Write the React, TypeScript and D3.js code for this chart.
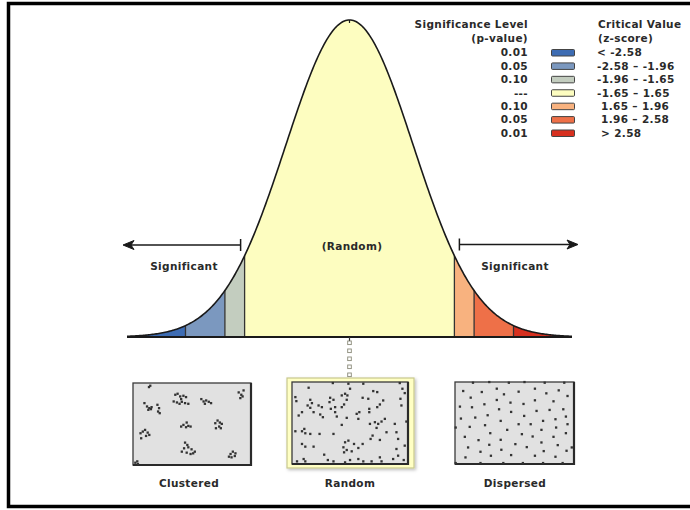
import { useEffect } from "react";
import * as d3 from "d3";

// bell-curve breaks (z-score) and segment fills
const zBreaks = [-3.5, -2.58, -1.96, -1.65, 1.65, 1.96, 2.58, 3.5];
const binColors = ["#3d6cb3", "#7b98bf", "#c3cdbf", "#fdfdc0", "#f8b27f", "#ee7048", "#d7301f"];

// legend
const pValues = ["0.01", "0.05", "0.10", "---", "0.10", "0.05", "0.01"];
const zRanges = ["< -2.58", "-2.58 \u2013 -1.96", "-1.96 \u2013 -1.65", "-1.65 \u2013 1.65", "1.65 \u2013 1.96", "1.96 \u2013 2.58", "> 2.58"];

const panelLabels = ["Clustered", "Random", "Dispersed"];

// dot positions in a reading grid per panel
const clusteredDots: [number, number][] = [
  [68, 28], [64, 32],
  [50, 80], [58, 90], [65, 95], [70, 98], [62, 100], [72, 92], [90, 85], [95, 95], [92, 105], [97, 110],
  [145, 55], [152, 52], [160, 60], [170, 58], [178, 62], [140, 75], [150, 78], [158, 82], [165, 76], [175, 80], [185, 82], [163, 68],
  [225, 68], [232, 75], [240, 72], [248, 76], [255, 80], [236, 82],
  [340, 48], [348, 55], [355, 42], [345, 65], [352, 60],
  [38, 170], [45, 165], [52, 160], [60, 168], [65, 175], [40, 185], [55, 178],
  [163, 150], [170, 145], [180, 138], [185, 148], [192, 150], [178, 152],
  [268, 140], [275, 132], [282, 138], [288, 142], [270, 155], [280, 150], [285, 155],
  [175, 198], [182, 205], [172, 215], [185, 212], [195, 218], [205, 225], [165, 225], [180, 228], [192, 232], [200, 230],
  [310, 240], [315, 232], [322, 225], [330, 230], [318, 242], [328, 238],
  [22, 258], [28, 254], [30, 262],
];

const randomDots: [number, number][] = [
  [75, 42], [148, 28], [195, 30], [200, 45], [240, 30], [270, 52], [282, 55], [350, 28], [358, 45], [365, 58],
  [35, 70], [38, 82], [80, 78], [85, 88], [72, 95], [80, 102], [105, 95], [115, 100], [140, 72], [150, 78],
  [138, 85], [175, 65], [185, 60], [192, 65], [190, 78], [182, 92], [175, 100], [155, 100], [142, 105], [238, 72],
  [255, 75], [282, 100], [290, 92], [258, 105], [258, 115], [300, 80], [352, 75], [355, 95], [45, 125], [55, 115],
  [90, 115], [110, 122], [118, 130], [155, 115], [160, 128], [220, 120], [228, 115], [225, 135], [190, 132], [175, 153],
  [275, 145], [285, 150], [295, 143], [305, 135], [280, 162], [260, 150], [335, 150], [370, 143], [35, 172], [55, 172],
  [62, 165], [65, 178], [80, 180], [108, 180], [150, 180], [268, 185], [262, 195], [290, 198], [310, 175], [340, 175],
  [345, 195], [55, 210], [65, 218], [90, 218], [185, 205], [195, 200], [180, 220], [190, 228], [182, 235], [212, 210],
  [238, 210], [205, 232], [225, 222], [340, 225], [345, 245], [365, 215], [122, 242], [40, 262], [60, 255], [65, 262],
  [133, 258], [150, 262], [185, 265], [200, 258], [225, 255], [240, 262], [265, 262], [290, 250], [295, 262], [330, 255],
  [362, 258],
];

const dispersedDots: [number, number][] = [
  [75, 20], [125, 18], [185, 20], [233, 18], [295, 20], [355, 20],
  [22, 262], [98, 262], [168, 262], [228, 262], [290, 262], [350, 262],
  [45, 45], [102, 48], [148, 38], [170, 55], [215, 47], [265, 38], [300, 52], [338, 43],
  [68, 65], [148, 72], [190, 80], [230, 84], [265, 73], [322, 76], [110, 85], [365, 60],
  [35, 92], [72, 94], [155, 100], [192, 108], [270, 105], [310, 102], [352, 100],
  [38, 128], [82, 125], [120, 118], [160, 135], [232, 120], [290, 135], [328, 130], [360, 122],
  [65, 153], [112, 148], [180, 162], [215, 145], [252, 145], [285, 162], [330, 155], [365, 145],
  [50, 183], [92, 193], [128, 172], [160, 192], [225, 175], [258, 182], [322, 183], [360, 172],
  [60, 215], [125, 207], [162, 222], [205, 205], [240, 214], [285, 200], [335, 208],
  [52, 245], [98, 228], [130, 240], [192, 238], [265, 240], [292, 226], [328, 243], [362, 225],
  [22, 155], [378, 215],
];

const FONT = "'DejaVu Sans', Verdana, sans-serif";
const INK = "#2a2a2a";

const pdf = (z: number) => Math.exp(-0.5 * z * z) / Math.sqrt(2 * Math.PI);

export default function App() {
  useEffect(() => {
    document.body.style.margin = "0";
  }, []);

  const x = d3.scaleLinear().domain([-3.5, 3.5]).range([127, 572]);
  const y = d3.scaleLinear().domain([0, pdf(0)]).range([337, 20]);

  const area = d3
    .area<number>()
    .x((z) => x(z))
    .y0(y(0))
    .y1((z) => y(pdf(z)));
  const line = d3
    .line<number>()
    .x((z) => x(z))
    .y((z) => y(pdf(z)));

  const segment = (z0: number, z1: number) => {
    const pts = d3.range(z0, z1, 0.02);
    pts.push(z1);
    return pts;
  };
  const curvePts = segment(-3.5, 3.5);

  const rowY = d3.scalePoint<number>().domain(d3.range(pValues.length)).range([52.5, 133]);

  const panels = [
    { dots: clusteredDots, x0: 133, x1: 251, y0: 383, y1: 465, dx: [15, 378], dy: [20, 265], cx: 189 },
    { dots: randomDots, x0: 292, x1: 408, y0: 382, y1: 464, dx: [25, 375], dy: [25, 270], cx: 350 },
    { dots: dispersedDots, x0: 455, x1: 574, y0: 382, y1: 464, dx: [20, 385], dy: [18, 265], cx: 515 },
  ];

  const arrowY = 245;
  const leftEnd = x(-1.65) - 4;
  const rightEnd = x(1.65) + 5;

  return (
    <svg width={690} height={510} style={{ display: "block", background: "#fff" }} fontFamily={FONT} letterSpacing={0.35}>
      <defs>
        <filter id="shadow" x="-10%" y="-10%" width="130%" height="130%">
          <feDropShadow dx="1.5" dy="1.5" stdDeviation="1.5" floodColor="#000" floodOpacity="0.25" />
        </filter>
      </defs>

      {/* outer frame */}
      <rect x={8.5} y={3.5} width={720} height={503} fill="none" stroke="#000" strokeWidth={3.5} />

      {/* curve segments */}
      {binColors.map((c, i) => (
        <path key={i} d={area(segment(zBreaks[i], zBreaks[i + 1])) || ""} fill={c} />
      ))}
      {zBreaks.slice(1, -1).map((z, i) => (
        <line key={i} x1={x(z)} x2={x(z)} y1={y(0)} y2={y(pdf(z))} stroke="#333" strokeWidth={1.3} />
      ))}
      <path d={line(curvePts) || ""} fill="none" stroke="#1a1a1a" strokeWidth={1.6} />
      <line x1={x(-3.5)} x2={x(3.5)} y1={y(0)} y2={y(0)} stroke="#1a1a1a" strokeWidth={1.8} />
      <line x1={x(0)} x2={x(0)} y1={y(pdf(0))} y2={y(pdf(0)) + 3} stroke="#1a1a1a" strokeWidth={1.2} />

      {/* connector from curve centre to random panel */}
      <line x1={x(0)} x2={x(0)} y1={y(0)} y2={y(0) + 4} stroke="#333" strokeWidth={1.2} />
      {d3.range(341, 376, 8).map((yy) => (
        <rect key={yy} x={x(0) - 1.8} y={yy} width={3.6} height={3.6} fill="#fff" stroke="#8a8a7a" strokeWidth={0.9} />
      ))}

      {/* significance arrows */}
      <g stroke="#1a1a1a" strokeWidth={1.5} fill="#1a1a1a">
        <line x1={125} x2={leftEnd} y1={arrowY} y2={arrowY} />
        <line x1={leftEnd} x2={leftEnd} y1={arrowY - 6} y2={arrowY + 6} />
        <path d={`M${123},${arrowY} L${134},${arrowY - 4.5} L${131},${arrowY} L${134},${arrowY + 4.5} Z`} strokeWidth={1} />
        <line x1={rightEnd} x2={576} y1={arrowY - 0.5} y2={arrowY - 0.5} />
        <line x1={rightEnd} x2={rightEnd} y1={arrowY - 6.5} y2={arrowY + 5.5} />
        <path
          d={`M${578},${arrowY - 0.5} L${567},${arrowY - 5} L${570},${arrowY - 0.5} L${567},${arrowY + 4} Z`}
          strokeWidth={1}
        />
      </g>

      <g fontWeight="bold" fontSize={10.5} fill={INK} textAnchor="middle">
        <text x={352} y={250}>(Random)</text>
        <text x={184} y={270}>Significant</text>
        <text x={515} y={270}>Significant</text>
      </g>

      {/* legend */}
      <g fontWeight="bold" fontSize={10.5} fill={INK}>
        <text x={528} y={28} textAnchor="end">Significance Level</text>
        <text x={528} y={42} textAnchor="end">(p-value)</text>
        <text x={598} y={28}>Critical Value</text>
        <text x={598} y={42}>(z-score)</text>
        {pValues.map((p, i) => (
          <g key={i}>
            <text x={528} y={(rowY(i) || 0) + 3.8} textAnchor="end">{p}</text>
            <rect
              x={551.5}
              y={(rowY(i) || 0) - 3}
              width={23}
              height={6.5}
              rx={1}
              fill={binColors[i]}
              stroke="#444"
              strokeWidth={1}
            />
            <text x={/^[-<]/.test(zRanges[i]) ? 597 : 601} y={(rowY(i) || 0) + 3.8}>{zRanges[i]}</text>
          </g>
        ))}
      </g>

      {/* pattern panels */}
      <rect x={287} y={378} width={127} height={90} fill="#ffffc4" stroke="#c9c98e" strokeWidth={1.2} filter="url(#shadow)" />
      {panels.map((p, i) => {
        const px = d3.scaleLinear().domain(p.dx).range([p.x0, p.x1]);
        const py = d3.scaleLinear().domain(p.dy).range([p.y0, p.y1]);
        return (
          <g key={i}>
            <rect x={p.x0} y={p.y0} width={p.x1 - p.x0} height={p.y1 - p.y0} fill="#e1e1e1" stroke="#3a3a3a" strokeWidth={1.3} />
            <path
              d={`M${p.x1},${p.y0} V${p.y1} H${p.x0}`}
              fill="none"
              stroke="#2a2a2a"
              strokeWidth={2.2}
            />
            {p.dots.map(([dx, dy], j) => (
              <rect key={j} x={px(dx) - 1.1} y={py(dy) - 1.1} width={2.3} height={2.3} fill="#333" />
            ))}
            <text x={p.cx} y={487} textAnchor="middle" fontWeight="bold" fontSize={10.5} fill={INK}>
              {panelLabels[i]}
            </text>
          </g>
        );
      })}
    </svg>
  );
}
